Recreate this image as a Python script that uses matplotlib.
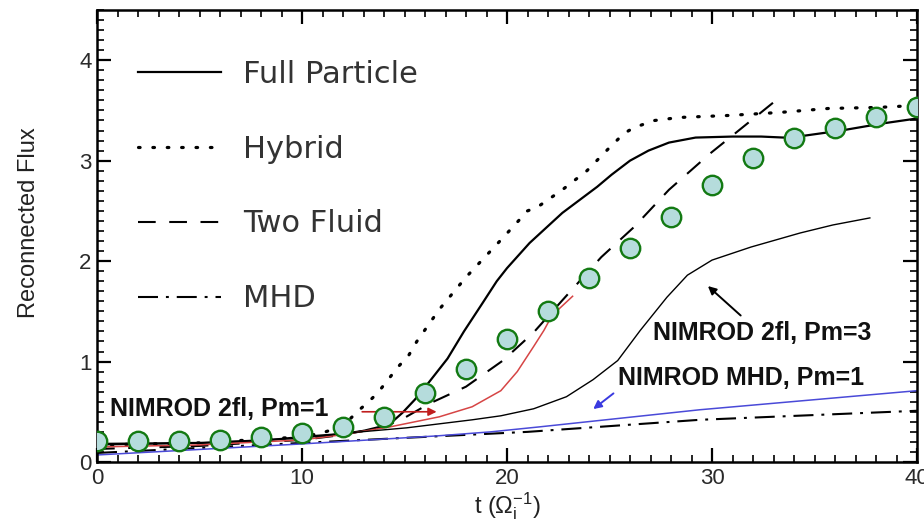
import matplotlib
matplotlib.use("Agg")
import matplotlib.pyplot as plt
from matplotlib.ticker import MultipleLocator

plt.rcParams['font.family'] = ['Liberation Sans', 'DejaVu Sans']
plt.rcParams['mathtext.fontset'] = 'custom'
plt.rcParams['mathtext.rm'] = 'Liberation Sans'
plt.rcParams['mathtext.it'] = 'Liberation Sans'

# ---- data ----
full_t = [0, 5, 8, 10, 12, 13, 14, 14.4, 14.9, 15.5, 16.1, 16.6, 17.1, 17.9, 18.8, 19.5, 20.0,
          21.1, 22.7, 24.4, 25.1, 26.0, 26.9, 27.9, 29.2, 31.0, 32.4, 33.5, 34.2, 36.3, 38.3, 40]
full_v = [0.18, 0.19, 0.21, 0.25, 0.28, 0.31, 0.36, 0.40, 0.49, 0.62, 0.77, 0.90, 1.03, 1.30, 1.58, 1.80, 1.93,
          2.18, 2.48, 2.74, 2.86, 3.00, 3.10, 3.18, 3.23, 3.24, 3.24, 3.23, 3.24, 3.30, 3.37, 3.42]

hyb_t = [0, 5, 10, 11, 12, 12.8, 13.2, 13.7, 14.2, 14.7, 15.2, 15.6, 16.7, 18.0, 19.7, 20.6, 21.0, 21.5,
         22.7, 23.9, 25.0, 25.7, 26.2, 27.2, 28.4, 30.8, 33.3, 35.7, 38.1, 40]
hyb_v = [0.17, 0.19, 0.25, 0.29, 0.36, 0.52, 0.59, 0.69, 0.82, 0.95, 1.06, 1.20, 1.52, 1.84, 2.21, 2.41, 2.50, 2.54,
         2.71, 2.90, 3.13, 3.27, 3.33, 3.40, 3.43, 3.45, 3.48, 3.52, 3.53, 3.55]

tf_t = [0, 5, 10, 12, 14, 15, 16.2, 18.0, 19.8, 21.3, 22.7, 24.6, 26.2, 27.9, 29.9, 31.3, 33.3]
tf_v = [0.13, 0.16, 0.22, 0.27, 0.35, 0.44, 0.58, 0.75, 1.01, 1.29, 1.61, 2.04, 2.34, 2.71, 3.07, 3.30, 3.63]

mhd_t = [0, 10, 18, 21, 29.4, 40]
mhd_v = [0.09, 0.19, 0.27, 0.30, 0.42, 0.51]

n2fl1_t = [0, 5, 10, 11.9, 14.3, 16.7, 18.3, 19.7, 20.5, 21.3, 21.8, 22.2, 23.2]
n2fl1_v = [0.15, 0.17, 0.22, 0.27, 0.35, 0.45, 0.55, 0.71, 0.90, 1.15, 1.31, 1.46, 1.65]

n2fl3_t = [0, 5, 10, 12.3, 15.1, 18.3, 19.7, 21.3, 22.9, 24.2, 25.4, 26.5, 27.8, 28.8, 30.0, 31.9, 34.3, 35.9, 37.7]
n2fl3_v = [0.17, 0.19, 0.24, 0.29, 0.34, 0.42, 0.46, 0.53, 0.65, 0.82, 1.01, 1.31, 1.64, 1.86, 2.01, 2.14, 2.28, 2.36, 2.43]

nmhd_t = [0, 10, 16.6, 19.2, 21.6, 29.4, 40]
nmhd_v = [0.07, 0.18, 0.26, 0.30, 0.35, 0.52, 0.71]

circ_t = [0, 2, 4, 6, 8, 10, 12, 14, 16, 18, 20, 22, 24, 26, 28, 30, 32, 34, 36, 38, 40]
circ_v = [0.21, 0.21, 0.21, 0.22, 0.25, 0.29, 0.35, 0.45, 0.69, 0.93, 1.22, 1.50, 1.83, 2.13, 2.44, 2.76,
          3.03, 3.23, 3.33, 3.43, 3.53]

legend_labels = ['Full Particle', 'Hybrid', 'Two Fluid', 'MHD']

# ---- figure ----
fig = plt.figure(figsize=(9.24, 5.21), dpi=100)
ax = fig.add_axes([97/924, 1-462/521, 820/924, 452/521])

ln_full, = ax.plot(full_t, full_v, color='black', lw=1.6)
ln_hyb, = ax.plot(hyb_t, hyb_v, color='black', lw=2.3, linestyle=(0, (0.5, 4.0)), dash_capstyle='round')
ln_tf, = ax.plot(tf_t, tf_v, color='black', lw=1.5, linestyle=(0, (8.5, 6.5)))
ln_mhd, = ax.plot(mhd_t, mhd_v, color='black', lw=1.5, linestyle=(0, (9.6, 3.8, 1.4, 3.8)))
ax.plot(n2fl1_t, n2fl1_v, color='#d64545', lw=1.1)
ax.plot(n2fl3_t, n2fl3_v, color='black', lw=1.0)
ax.plot(nmhd_t, nmhd_v, color='#4a4ad8', lw=1.1)

ax.plot(circ_t, circ_v, linestyle='none', marker='o', markersize=14,
        markerfacecolor='#b5dcdc', markeredgecolor='#137a13', markeredgewidth=1.7, zorder=5)

# annotations
afs = 18
ax.text(0.63, 0.53, 'NIMROD 2fl, Pm=1', fontsize=afs, fontweight='bold', va='center', ha='left', color='#111111')
ax.text(27.1, 1.28, 'NIMROD 2fl, Pm=3', fontsize=afs, fontweight='bold', va='center', ha='left', color='#111111')
ax.text(25.4, 0.84, 'NIMROD MHD, Pm=1', fontsize=afs, fontweight='bold', va='center', ha='left', color='#111111')

ax.annotate('', xy=(16.7, 0.50), xytext=(12.8, 0.50),
            arrowprops=dict(arrowstyle='-|>', color='#c01e1e', lw=1.2, mutation_scale=12))
ax.annotate('', xy=(29.7, 1.77), xytext=(31.5, 1.44),
            arrowprops=dict(arrowstyle='-|>', color='black', lw=1.4, mutation_scale=12))
ax.annotate('', xy=(24.1, 0.51), xytext=(25.3, 0.70),
            arrowprops=dict(arrowstyle='-|>', color='#3a3ae0', lw=1.4, mutation_scale=12))

# legend
leg = ax.legend([ln_full, ln_hyb, ln_tf, ln_mhd], legend_labels, loc='upper left',
                bbox_to_anchor=(0.05, 0.89), frameon=False,
                prop={'family': 'DejaVu Sans', 'size': 22},
                handlelength=2.7, handletextpad=0.75, labelspacing=1.5, borderaxespad=0, borderpad=0)
for t in leg.get_texts():
    t.set_color('#333333')

# axes styling
ax.set_xlim(0, 40)
ax.set_ylim(0, 4.5)
ax.xaxis.set_major_locator(MultipleLocator(10))
ax.xaxis.set_minor_locator(MultipleLocator(1))
ax.yaxis.set_major_locator(MultipleLocator(1))
ax.yaxis.set_minor_locator(MultipleLocator(0.1))
ax.tick_params(which='both', direction='in', top=True, right=True, labelsize=16, colors='black')
ax.tick_params(which='major', length=10, width=1.6, pad=4)
ax.tick_params(which='minor', length=5, width=1.2)
for lab in ax.get_xticklabels() + ax.get_yticklabels():
    lab.set_color('#2a2a2a')
for s in ax.spines.values():
    s.set_linewidth(1.8)

ax.set_xlabel(r't ($\Omega_{i}^{-1}$)', fontsize=17, labelpad=1, color='#222222')
ax.set_ylabel('Reconnected Flux', fontsize=17, color='#222222')
ax.yaxis.set_label_coords(-0.07, 0.53)

fig.savefig('out.png', dpi=100, facecolor='white')
